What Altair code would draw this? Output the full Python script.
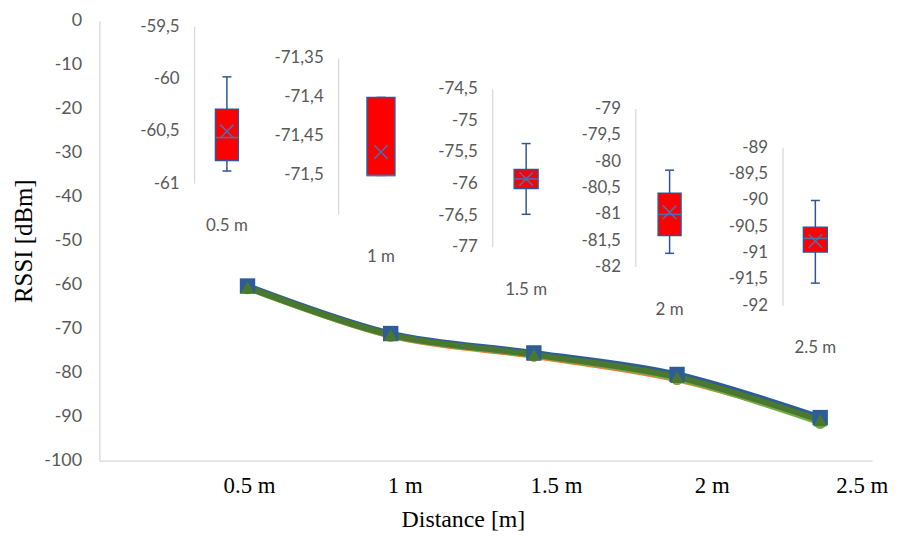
import altair as alt
import pandas as pd

# ---------------- data ----------------
distances = ["0.5 m", "1 m", "1.5 m", "2 m", "2.5 m"]
dist_m = [0.5, 1.0, 1.5, 2.0, 2.5]

# main RSSI curves (several overlapping measurement series)
rssi_orange = [-60.6, -71.6, -76.2, -81.5, -90.9]
rssi_ltgreen = [-60.7, -71.5, -76.0, -81.3, -91.3]
rssi_blue = [-60.3, -71.1, -75.5, -80.4, -90.2]
rssi_dkgreen = [-60.6, -71.4, -75.9, -81.0, -90.8]

# box-plot statistics per distance
whisk_lo = [-60.88, -71.50, -76.48, -81.74, -91.57]
q1 = [-60.78, -71.50, -76.07, -81.40, -90.98]
median = [-60.56, -71.50, -75.92, -81.00, -90.72]
mean = [-60.50, -71.47, -75.92, -80.96, -90.77]
q3 = [-60.29, -71.40, -75.77, -80.60, -90.51]
whisk_hi = [-59.98, -71.40, -75.36, -80.16, -90.00]

# inset axes
inset_lo = [-61.0, -71.55, -77.0, -82.0, -92.0]
inset_hi = [-59.5, -71.35, -74.5, -79.0, -89.0]
inset_ticks = [
    [-59.5, -60.0, -60.5, -61.0],
    [-71.35, -71.4, -71.45, -71.5],
    [-74.5, -75.0, -75.5, -76.0, -76.5, -77.0],
    [-79.0, -79.5, -80.0, -80.5, -81.0, -81.5, -82.0],
    [-89.0, -89.5, -90.0, -90.5, -91.0, -91.5, -92.0],
]
main_ticks = list(range(-100, 1, 10))

# ---------------- layout ----------------
PAD_TOP = 11
W, H = 778, 443
X_MAX = 2.664
inset_axis_x = [0.315, 0.818, 1.356, 1.856, 2.370]
inset_box_x = [0.428, 0.966, 1.473, 1.974, 2.483]
inset_px_top = [6, 38, 69, 89, 128]
inset_px_bot = [164, 195, 228, 248, 287]
inset_box_w = [23, 28, 24, 23, 24]
main_label_x = [0.507, 1.051, 1.579, 2.123, 2.647]

GRAY_TXT = "#595959"
AXIS_COL = "#D9D9D9"
SANS = "Lato"
SERIF = "Liberation Serif"

xscale = alt.Scale(domain=[0, X_MAX], range=[0, W], nice=False, zero=False)
yscale_main = alt.Scale(domain=[-100, 0], range=[H, 0], nice=False, zero=False)


def fmt(v):
    return f"{v:g}".replace(".", ",")


x_axis = alt.Axis(
    labels=False, ticks=False, grid=False, domainColor=AXIS_COL, domainWidth=1.3,
    title="Distance [m]", titleFont=SERIF, titleFontSize=24, titleFontWeight="normal",
    titleColor="black", titleX=366, titleY=59, titleBaseline="middle", titleAlign="center",
)
y_axis = alt.Axis(
    values=main_ticks, ticks=False, grid=False, domainColor=AXIS_COL, domainWidth=1.3,
    labelColor=GRAY_TXT, labelFont=SANS, labelFontSize=18, labelPadding=18,
    labelExpr="replace(datum.label, '\u2212', '-')",
    title="RSSI [dBm]", titleFont=SERIF, titleFontSize=25, titleFontWeight="normal",
    titleColor="black", titleX=-76, titleY=H / 2, titleBaseline="middle",
    titleAlign="center", titleAngle=270,
)


def XM(field="x"):
    return alt.X(f"{field}:Q", scale=xscale, axis=x_axis)


layers = []

# ---- main series ----
series = [
    ("orange", rssi_orange, "#ED7D31", "circle", 130),
    ("ltgreen", rssi_ltgreen, "#70AD47", "circle", 170),
    ("blue", rssi_blue, "#2C5D98", "square", 240),
    ("dkgreen", rssi_dkgreen, "#4A782E", "triangle-up", 190),
]

first = True
for name, vals, col, shape, size in series:
    df = pd.DataFrame({"d": dist_m, "v": vals})
    layers.append(
        alt.Chart(df).mark_line(color=col, strokeWidth=6, interpolate="catmull-rom").encode(
            x=XM("d"),
            y=alt.Y("v:Q", scale=yscale_main, axis=y_axis if first else None),
        )
    )
    first = False
for name, vals, col, shape, size in series:
    df = pd.DataFrame({"d": dist_m, "v": vals})
    layers.append(
        alt.Chart(df).mark_point(shape=shape, filled=True, color=col, size=size, opacity=1).encode(
            x=XM("d"),
            y=alt.Y("v:Q", scale=yscale_main, axis=None),
        )
    )

# main x labels
lab_df = pd.DataFrame({"d": main_label_x, "v": [-100] * 5, "t": distances})
layers.append(
    alt.Chart(lab_df).mark_text(font=SERIF, fontSize=23, color="black", baseline="middle",
                                align="center", dy=25).encode(
        x=XM("d"),
        y=alt.Y("v:Q", scale=yscale_main, axis=None),
        text="t:N",
    )
)

# ---- insets ----
BOX_STROKE = "#2F5597"
MEAN_COL = "#4A6FB5"
xshape = "M-1,-1L1,1M-1,1L1,-1"

for i in range(5):
    ys = alt.Scale(domain=[inset_lo[i], inset_hi[i]], range=[inset_px_bot[i], inset_px_top[i]],
                   nice=False, zero=False)
    ax = inset_axis_x[i]
    bx = inset_box_x[i]

    def Y(field, s=ys):
        return alt.Y(f"{field}:Q", scale=s, axis=None)

    # axis line
    adf = pd.DataFrame({"x": [ax], "lo": [inset_lo[i]], "hi": [inset_hi[i]]})
    layers.append(alt.Chart(adf).mark_rule(color=AXIS_COL, strokeWidth=1.3).encode(
        x=XM(), y=Y("lo"), y2=alt.Y2("hi")))

    # tick labels
    tdf = pd.DataFrame({"x": [ax] * len(inset_ticks[i]), "v": inset_ticks[i],
                        "t": [fmt(v) for v in inset_ticks[i]]})
    layers.append(alt.Chart(tdf).mark_text(font=SANS, fontSize=17, color=GRAY_TXT, align="right",
                                           baseline="middle", dx=-15).encode(
        x=XM(), y=Y("v"), text="t:N"))

    # category label under inset
    cdf = pd.DataFrame({"x": [bx], "v": [inset_lo[i]], "t": [distances[i]]})
    layers.append(alt.Chart(cdf).mark_text(font=SANS, fontSize=17, color=GRAY_TXT, align="center",
                                           baseline="middle", dy=43).encode(
        x=XM(), y=Y("v"), text="t:N"))

    sdf = pd.DataFrame({"x": [bx], "wlo": [whisk_lo[i]], "q1": [q1[i]], "med": [median[i]],
                        "mean": [mean[i]], "q3": [q3[i]], "whi": [whisk_hi[i]]})
    # whisker
    layers.append(alt.Chart(sdf).mark_rule(color=BOX_STROKE, strokeWidth=1.5).encode(
        x=XM(), y=Y("wlo"), y2=alt.Y2("whi")))
    # caps
    for fld in ["wlo", "whi"]:
        layers.append(alt.Chart(sdf).mark_tick(orient="horizontal", size=9, thickness=1.5,
                                               color=BOX_STROKE, opacity=1).encode(
            x=XM(), y=Y(fld)))
    # box
    layers.append(alt.Chart(sdf).mark_bar(size=inset_box_w[i], color="#FF0000", stroke=BOX_STROKE,
                                          strokeWidth=1.5, orient="vertical").encode(
        x=XM(), y=Y("q1"), y2=alt.Y2("q3")))
    # median
    layers.append(alt.Chart(sdf).mark_tick(orient="horizontal", size=inset_box_w[i], thickness=1.5,
                                           color=MEAN_COL, opacity=1).encode(
        x=XM(), y=Y("med")))
    # mean marker
    layers.append(alt.Chart(sdf).mark_point(shape=xshape, filled=False, color=MEAN_COL, size=180,
                                            strokeWidth=1.5, opacity=1).encode(
        x=XM(), y=Y("mean")))

chart = alt.layer(*layers).resolve_scale(y="independent").properties(
    width=W, height=H,
    autosize=alt.AutoSizeParams(type="none"),
    padding={"left": 92, "top": PAD_TOP, "right": 22, "bottom": 72},
    background="white",
).configure_view(stroke=None)

chart.save("out.html", embed_options={"renderer": "svg", "actions": False})
